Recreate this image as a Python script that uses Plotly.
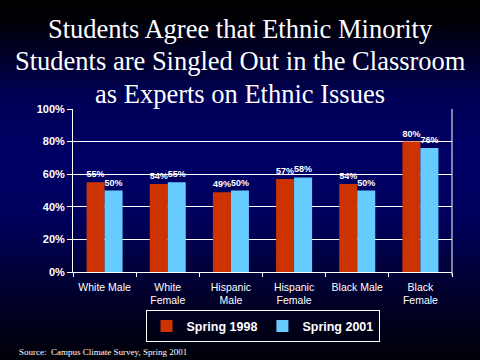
import plotly.graph_objects as go

categories = ["White Male", "White<br>Female", "Hispanic<br>Male", "Hispanic<br>Female", "Black Male", "Black<br>Female"]
spring_1998 = [55, 54, 49, 57, 54, 80]
spring_2001 = [50, 55, 50, 58, 50, 76]
series_names = ["Spring 1998", "Spring 2001"]
y_ticks = [0, 20, 40, 60, 80, 100]
y_tick_labels = ["0%", "20%", "40%", "60%", "80%", "100%"]
title_lines = ["Students Agree that Ethnic Minority",
               "Students are Singled Out in the Classroom",
               "as Experts on Ethnic Issues"]
source_text = "Source:  Campus Climate Survey, Spring 2001"

W, H = 480, 360
ML, MR, MT, MB = 73, 28, 109, 88

fig = go.Figure()
fig.add_trace(go.Bar(
    x=categories, y=spring_1998, name=series_names[0],
    marker=dict(color="#CC3300", line=dict(width=0)),
    text=[f"{v}%" for v in spring_1998], textposition="outside",
    textfont=dict(color="white", size=9, family="Arial", weight="bold"), cliponaxis=False,
))
fig.add_trace(go.Bar(
    x=categories, y=spring_2001, name=series_names[1],
    marker=dict(color="#66CCFF", line=dict(width=0)),
    text=[f"{v}%" for v in spring_2001], textposition="outside",
    textfont=dict(color="white", size=9, family="Arial", weight="bold"), cliponaxis=False,
))

# background gradient (pixel row -> blue level)
stops = [(0, 0), (20, 6), (100, 88), (160, 102), (220, 92), (280, 52), (360, 8)]
def blue_at(py):
    for (a, ca), (b, cb) in zip(stops[:-1], stops[1:]):
        if a <= py <= b:
            return ca + (cb - ca) * (py - a) / (b - a)
    return stops[-1][1]

plot_h = H - MT - MB
plot_w = W - ML - MR
shapes = []
step = 4
for py in range(0, H, step):
    y0 = (H - MB - (py + step)) / plot_h
    y1 = (H - MB - py) / plot_h
    b = int(round(blue_at(py + step / 2)))
    shapes.append(dict(type="rect", xref="paper", yref="paper",
                       x0=-ML / plot_w - 0.01, x1=1 + MR / plot_w + 0.01,
                       y0=y0, y1=y1 + 0.002, fillcolor=f"rgb(0,0,{b})",
                       line=dict(width=0), layer="below"))

annotations = []
title_baselines = [38, 70, 103]
for line, base in zip(title_lines, title_baselines):
    annotations.append(dict(text=line, xref="paper", yref="paper",
                            x=(W / 2 - ML) / plot_w, y=(H - MB - (base - 9)) / plot_h,
                            xanchor="center", yanchor="middle", showarrow=False,
                            font=dict(color="white", size=26.5,
                                      family="Liberation Serif, Times New Roman, serif")))
annotations.append(dict(text=source_text, xref="paper", yref="paper",
                        x=(17 - ML) / plot_w, y=(H - MB - 352) / plot_h,
                        xanchor="left", yanchor="middle", showarrow=False,
                        font=dict(color="white", size=9,
                                  family="Liberation Serif, Times New Roman, serif")))

fig.update_layout(
    width=W, height=H,
    margin=dict(l=ML, r=MR, t=MT, b=MB, autoexpand=False),
    paper_bgcolor="#000000",
    plot_bgcolor="rgba(0,0,0,0)",
    shapes=shapes,
    barmode="group",
    bargap=0.43,
    bargroupgap=0,
    showlegend=True,
    legend=dict(orientation="h", x=0.5, xanchor="center", y=-0.235, yanchor="top",
                font=dict(color="white", size=12.5, family="Arial", weight="bold"),
                bordercolor="white", borderwidth=1, bgcolor="rgba(0,0,0,0)",
                itemwidth=30, traceorder="normal", tracegroupgap=0),
    xaxis=dict(showgrid=False, showline=True, linecolor="white", linewidth=1,
               ticks="outside", tickson="boundaries", ticklen=4, tickcolor="white",
               ticklabelstandoff=5,
               tickfont=dict(color="white", size=10.5, family="Arial"), mirror=False),
    yaxis=dict(range=[0, 100], tickvals=y_ticks, ticktext=y_tick_labels,
               showgrid=True, gridcolor="white", gridwidth=1,
               showline=True, linecolor="white", linewidth=1,
               ticks="outside", ticklen=5, tickcolor="white",
               tickfont=dict(color="white", size=11, family="Arial", weight="bold"),
               zeroline=False),
    annotations=annotations,
)
# right border line
fig.add_shape(type="line", xref="paper", yref="paper", x0=1, x1=1, y0=-0.02, y1=1,
              line=dict(color="white", width=1))

fig.write_html("out.html", config={"displayModeBar": False},
               post_script="document.body.style.margin='0';document.body.style.overflow='hidden';")
